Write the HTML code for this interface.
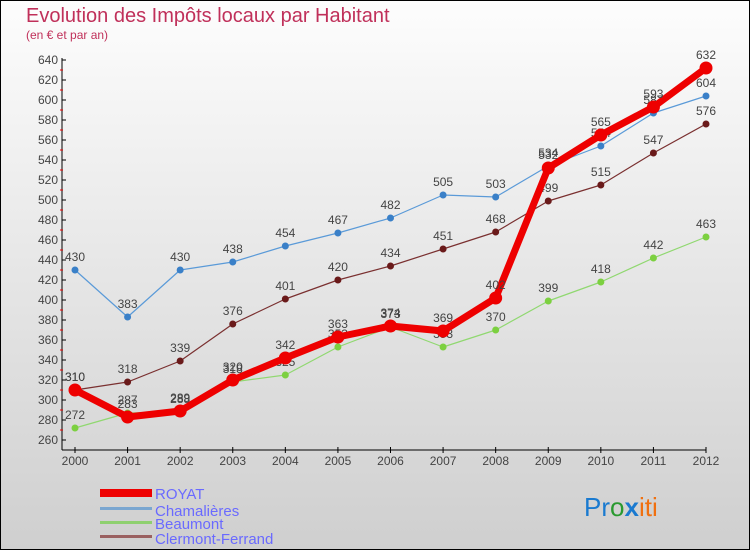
<!DOCTYPE html>
<html><head><meta charset="utf-8"><style>
body{margin:0;}
svg{display:block;font-family:"Liberation Sans",sans-serif;}
</style></head><body>
<svg width="750" height="550" viewBox="0 0 750 550">
<defs><linearGradient id="bg" x1="0" y1="0" x2="0" y2="1"><stop offset="0" stop-color="#fdfdfd"/><stop offset="1" stop-color="#cfcfcf"/></linearGradient></defs>
<rect x="0.5" y="0.5" width="749" height="549" fill="url(#bg)" stroke="#000"/>
<text x="26" y="22" font-size="20" fill="#c0305a">Evolution des Impôts locaux par Habitant</text>
<text x="26" y="39" font-size="12" fill="#c0305a">(en € et par an)</text>
<g id="axes"></g>
<g id="series"></g>
<g>
<rect x="100" y="489" width="52" height="8" fill="#e00"/>
<text x="155" y="499" font-size="15" fill="#6a6aff">ROYAT</text>
<rect x="100" y="507" width="52" height="3" fill="#7aa6d0"/>
<text x="155" y="516" font-size="15" fill="#6a6aff">Chamalières</text>
<rect x="100" y="521" width="52" height="3" fill="#8fd070"/>
<text x="155" y="529" font-size="15" fill="#6a6aff">Beaumont</text>
<rect x="100" y="535" width="52" height="3" fill="#9a6060"/>
<text x="155" y="544" font-size="15" fill="#6a6aff">Clermont-Ferrand</text>
</g>
<text x="584" y="516" font-size="26"><tspan fill="#1a7ad0">Pr</tspan><tspan fill="#2a9a30">o</tspan><tspan fill="#1a7ad0" font-weight="bold">x</tspan><tspan fill="#f07010">iti</tspan></text>
</svg>
<script>
const years=[2000,2001,2002,2003,2004,2005,2006,2007,2008,2009,2010,2011,2012];
const royat=[310,283,289,320,342,363,374,369,402,532,565,593,632];
const chamalieres=[430,383,430,438,454,467,482,505,503,534,554,587,604];
const beaumont=[272,287,288,318,325,353,373,353,370,399,418,442,463];
const clermont=[310,318,339,376,401,420,434,451,468,499,515,547,576];
const yTicks=[260,280,300,320,340,360,380,400,420,440,460,480,500,520,540,560,580,600,620,640];
const NS="http://www.w3.org/2000/svg";
function xS(i){return 75+i*(706-75)/(years.length-1);}
function yS(v){return 700-v;}
function mk(t,a,p){const e=document.createElementNS(NS,t);for(const k in a)e.setAttribute(k,a[k]);p.appendChild(e);return e;}
const ax=document.getElementById('axes');
let l=mk('line',{x1:62,y1:58,x2:62,y2:450,stroke:'#000'},ax);


l=mk('line',{x1:62,y1:450,x2:706,y2:450,stroke:'#000'},ax);


yTicks.forEach(v=>{
  mk('line',{x1:62,y1:yS(v),x2:66,y2:yS(v),stroke:'#000'},ax);
  if(v<640)mk('line',{x1:60,y1:yS(v+10),x2:63,y2:yS(v+10),stroke:'#e00'},ax);
  const t=mk('text',{x:58,y:yS(v)+4,'font-size':12,fill:'#444','text-anchor':'end'},ax);t.textContent=v;
  
  
});
years.forEach((y,i)=>{
  mk('line',{x1:xS(i),y1:447,x2:xS(i),y2:453,stroke:'#000'},ax);
  const t=mk('text',{x:xS(i),y:465,'font-size':12,fill:'#444','text-anchor':'middle'},ax);t.textContent=y;
  
  
});
const sg=document.getElementById('series');
function series(vals,color,dot,w,r,name){
  const g=mk('g',{},sg);
  
  
  const p=mk('polyline',{points:vals.map((v,i)=>xS(i)+','+yS(v)).join(' '),fill:'none',stroke:color,'stroke-width':w,'stroke-linejoin':'round'},g);
  
  
  vals.forEach((v,i)=>{
    const c=mk('circle',{cx:xS(i),cy:yS(v),r:r,fill:dot},g);
    
    
    const t=mk('text',{x:xS(i),y:yS(v)-9,'font-size':12,fill:'#444','text-anchor':'middle'},g);t.textContent=v;
    
    
  });
}
series(chamalieres,'#5a9ad8','#3a80c8',1.2,3.5,'chamalieres');
series(clermont,'#7a3030','#6a1a1a',1.2,3.5,'clermont-ferrand');
series(beaumont,'#90d870','#7cd040',1.2,3.5,'beaumont');
series(royat,'#ee0000','#ee0000',7,6.5,'royat');
</script>
</body></html>
